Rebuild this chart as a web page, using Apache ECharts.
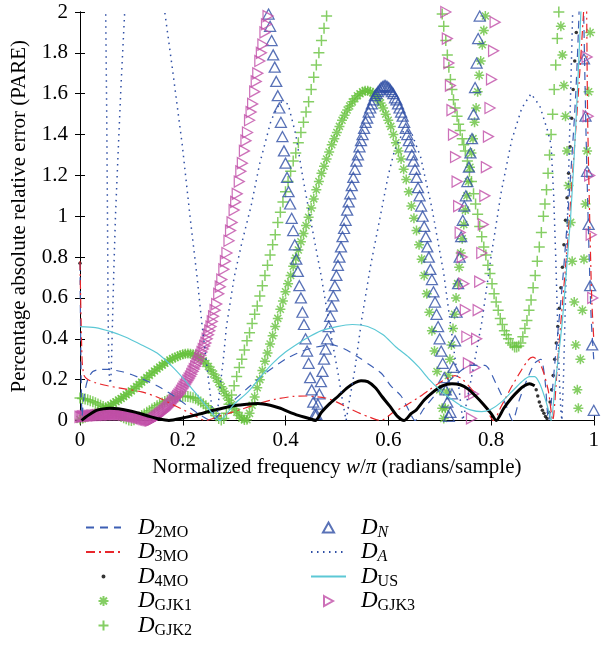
<!DOCTYPE html>
<html>
<head>
<meta charset="utf-8">
<script src="https://cdn.jsdelivr.net/npm/echarts/dist/echarts.min.js"></script>
<style>
  html, body { margin: 0; padding: 0; background: #fff; }
  #chart { width: 602px; height: 648px; }
</style>
</head>
<body>
<div id="chart"></div>
<script>
// axis ranges / ticks
const xTicks = [0, 0.2, 0.4, 0.6, 0.8, 1];
const yTicks = [0, 0.2, 0.4, 0.6, 0.8, 1, 1.2, 1.4, 1.6, 1.8, 2];

// legend names and how they are printed (base letter + subscript)
const seriesNames = ['D2MO', 'D3MO', 'D4MO', 'DGJK1', 'DGJK2', 'DN', 'DA', 'DUS', 'DGJK3'];
const subscripts = { D2MO: '2MO', D3MO: '3MO', D4MO: '4MO', DGJK1: 'GJK1', DGJK2: 'GJK2', DN: 'N', DA: 'A', DUS: 'US', DGJK3: 'GJK3' };

// D_2MO (dashed)
const d2mo = [[0,0.77],[0.004,0.02],[0.008,0.12],[0.015,0.2],[0.025,0.24],[0.04,0.25],[0.055,0.25],[0.08,0.24],[0.1,0.225],[0.12,0.205],[0.15,0.17],[0.183,0.12],[0.21,0.07],[0.235,0.025],[0.255,0],[0.275,0.04],[0.3,0.1],[0.327,0.16],[0.36,0.23],[0.4,0.3],[0.433,0.34],[0.46,0.36],[0.49,0.37],[0.515,0.35],[0.542,0.31],[0.565,0.27],[0.587,0.23],[0.605,0.17],[0.625,0.12],[0.64,0.05],[0.652,0],[0.67,0.06],[0.7,0.15],[0.73,0.22],[0.76,0.27],[0.788,0.27],[0.81,0.18],[0.83,0.07],[0.842,0],[0.855,0.1],[0.87,0.2],[0.885,0.28],[0.897,0.3],[0.905,0.2],[0.912,0],[0.925,0.3],[0.94,0.7],[0.955,1.2],[0.965,1.6],[0.972,2.05],[0.976,2.6],[0.98,2.05],[0.985,1.4],[0.99,0.9],[0.995,0.5],[1,0.3]];

// D_3MO (dash-dot)
const d3mo = [[0,0.78],[0.004,0.3],[0.008,0.22],[0.016,0.2],[0.03,0.185],[0.054,0.17],[0.087,0.155],[0.12,0.14],[0.15,0.115],[0.183,0.075],[0.215,0.035],[0.245,0],[0.27,0.02],[0.295,0.04],[0.32,0.06],[0.35,0.085],[0.381,0.105],[0.415,0.118],[0.44,0.12],[0.478,0.11],[0.5,0.09],[0.522,0.062],[0.545,0.035],[0.565,0.015],[0.585,0],[0.61,0.04],[0.635,0.075],[0.66,0.115],[0.68,0.15],[0.7,0.185],[0.718,0.21],[0.73,0.22],[0.745,0.2],[0.76,0.16],[0.775,0.11],[0.79,0.06],[0.805,0],[0.82,0.07],[0.84,0.165],[0.86,0.25],[0.872,0.295],[0.881,0.31],[0.893,0.29],[0.903,0.23],[0.912,0.14],[0.92,0],[0.93,0.3],[0.94,0.6],[0.95,0.9],[0.96,1.25],[0.97,1.6],[0.978,1.91],[0.981,2.05],[0.983,2.6],[0.986,2.05],[0.988,1.5],[0.992,1.0],[0.996,0.6],[1,0.4]];

// D_4MO: dense part (looks like a solid line) and the sparse dots
const d4moLine = [[0.003,0],[0.01,0.015],[0.02,0.032],[0.032,0.05],[0.045,0.057],[0.058,0.06],[0.075,0.057],[0.1,0.045],[0.12,0.032],[0.135,0.02],[0.15,0.01],[0.173,0],[0.2,0.012],[0.23,0.03],[0.26,0.05],[0.295,0.07],[0.32,0.078],[0.346,0.083],[0.37,0.075],[0.39,0.06],[0.404,0.045],[0.425,0.025],[0.446,0.01],[0.458,0],[0.47,0.04],[0.485,0.08],[0.503,0.12],[0.52,0.16],[0.535,0.185],[0.547,0.195],[0.56,0.19],[0.575,0.16],[0.587,0.12],[0.603,0.07],[0.618,0.02],[0.631,0],[0.645,0.035],[0.654,0.05],[0.67,0.1],[0.69,0.145],[0.705,0.17],[0.724,0.18],[0.74,0.175],[0.755,0.155],[0.77,0.12],[0.785,0.08],[0.8,0.035],[0.81,0],[0.825,0.06],[0.84,0.11],[0.855,0.15],[0.865,0.17],[0.875,0.18],[0.885,0.17]];
const d4moDots = [[0,0.77],[0.888,0.15],[0.891,0.12],[0.894,0.09],[0.897,0.07],[0.9,0.05],[0.903,0.035],[0.906,0.02],[0.909,0.01],[0.912,0.04],[0.915,0.09],[0.918,0.15],[0.921,0.22],[0.924,0.3],[0.927,0.38],[0.93,0.46],[0.933,0.55],[0.936,0.65],[0.939,0.75],[0.942,0.86],[0.945,0.98],[0.948,1.09],[0.951,1.21],[0.954,1.34],[0.957,1.48],[0.96,1.62],[0.963,1.76],[0.966,1.9],[0.969,2.04]];

// D_GJK1 (asterisks)
const dgjk1 = [[0,0.005],[0.005,0.01],[0.01,0.015],[0.015,0.02],[0.02,0.025],[0.025,0.03],[0.03,0.035],[0.035,0.04],[0.04,0.047],[0.045,0.054],[0.05,0.061],[0.055,0.068],[0.06,0.076],[0.065,0.084],[0.07,0.092],[0.075,0.1],[0.08,0.108],[0.085,0.117],[0.09,0.126],[0.095,0.135],[0.1,0.145],[0.105,0.155],[0.11,0.166],[0.115,0.177],[0.12,0.188],[0.125,0.199],[0.13,0.21],[0.135,0.221],[0.14,0.232],[0.145,0.242],[0.15,0.252],[0.155,0.262],[0.16,0.271],[0.165,0.28],[0.17,0.288],[0.175,0.296],[0.18,0.303],[0.185,0.309],[0.19,0.315],[0.195,0.32],[0.2,0.324],[0.205,0.327],[0.21,0.328],[0.215,0.327],[0.22,0.324],[0.225,0.319],[0.23,0.312],[0.235,0.303],[0.24,0.292],[0.245,0.279],[0.25,0.264],[0.255,0.247],[0.26,0.228],[0.265,0.208],[0.27,0.187],[0.275,0.165],[0.28,0.143],[0.285,0.121],[0.29,0.099],[0.295,0.078],[0.3,0.058],[0.305,0.04],[0.31,0.024],[0.315,0.011],[0.32,0.003],[0.325,0.004],[0.33,0.035],[0.335,0.075],[0.34,0.115],[0.345,0.16],[0.35,0.2],[0.355,0.245],[0.36,0.29],[0.365,0.33],[0.37,0.375],[0.375,0.415],[0.38,0.46],[0.385,0.5],[0.39,0.545],[0.395,0.585],[0.4,0.63],[0.405,0.67],[0.41,0.71],[0.415,0.755],[0.42,0.795],[0.425,0.835],[0.43,0.875],[0.435,0.915],[0.44,0.955],[0.445,0.995],[0.45,1.04],[0.455,1.085],[0.46,1.13],[0.465,1.17],[0.47,1.21],[0.475,1.245],[0.48,1.28],[0.485,1.315],[0.49,1.35],[0.495,1.38],[0.5,1.41],[0.505,1.44],[0.51,1.47],[0.515,1.495],[0.52,1.52],[0.525,1.54],[0.53,1.56],[0.535,1.575],[0.54,1.59],[0.545,1.6],[0.55,1.61],[0.555,1.615],[0.56,1.615],[0.565,1.61],[0.57,1.605],[0.575,1.59],[0.58,1.575],[0.585,1.555],[0.59,1.53],[0.595,1.5],[0.6,1.47],[0.605,1.44],[0.61,1.4],[0.615,1.36],[0.62,1.32],[0.625,1.28],[0.63,1.23],[0.635,1.18],[0.64,1.12],[0.645,1.05],[0.65,0.99],[0.655,0.93],[0.66,0.86],[0.665,0.79],[0.67,0.71],[0.675,0.62],[0.68,0.53],[0.685,0.44],[0.69,0.34],[0.695,0.24],[0.7,0.15],[0.705,0.06],[0.708,0.01],[0.711,0.06],[0.714,0.14],[0.717,0.22],[0.72,0.3],[0.723,0.37],[0.726,0.45],[0.729,0.52],[0.732,0.6],[0.735,0.67],[0.738,0.75],[0.741,0.82],[0.744,0.89],[0.747,0.96],[0.75,1.03],[0.753,1.1],[0.756,1.17],[0.759,1.24],[0.762,1.31],[0.765,1.38],[0.768,1.46],[0.771,1.53],[0.774,1.61],[0.777,1.69],[0.78,1.76],[0.783,1.84],[0.786,1.91],[0.789,1.98],[0.792,2.06],[0.933,2.06],[0.936,1.93],[0.939,1.79],[0.942,1.64],[0.945,1.49],[0.948,1.32],[0.951,1.15],[0.955,0.97],[0.958,0.78],[0.962,0.58],[0.965,0.37],[0.968,0.15],[0.97,0.06],[0.974,0.3],[0.978,0.54],[0.981,0.79],[0.984,1.06],[0.987,1.32],[0.99,1.61],[0.993,1.9],[0.996,2.1]];

// D_GJK2 (plus signs)
const dgjk2 = [[0,0.11],[0.005,0.108],[0.01,0.105],[0.015,0.101],[0.02,0.097],[0.025,0.092],[0.03,0.087],[0.035,0.081],[0.04,0.075],[0.045,0.069],[0.05,0.062],[0.055,0.055],[0.06,0.048],[0.065,0.041],[0.07,0.034],[0.075,0.027],[0.08,0.02],[0.085,0.014],[0.09,0.008],[0.095,0.003],[0.1,0],[0.105,0.004],[0.11,0.01],[0.115,0.017],[0.12,0.024],[0.125,0.032],[0.13,0.04],[0.135,0.048],[0.14,0.056],[0.145,0.064],[0.15,0.072],[0.155,0.079],[0.16,0.086],[0.165,0.093],[0.17,0.099],[0.175,0.104],[0.18,0.109],[0.185,0.113],[0.19,0.116],[0.195,0.118],[0.2,0.119],[0.205,0.119],[0.21,0.118],[0.215,0.115],[0.22,0.111],[0.225,0.106],[0.23,0.099],[0.235,0.091],[0.24,0.082],[0.245,0.072],[0.25,0.061],[0.255,0.049],[0.26,0.036],[0.265,0.023],[0.27,0.01],[0.275,0.002],[0.28,0.01],[0.285,0.035],[0.29,0.08],[0.295,0.125],[0.3,0.17],[0.305,0.215],[0.31,0.26],[0.315,0.3],[0.32,0.345],[0.325,0.39],[0.33,0.43],[0.335,0.475],[0.34,0.52],[0.345,0.56],[0.35,0.61],[0.355,0.66],[0.36,0.71],[0.365,0.76],[0.37,0.81],[0.375,0.86],[0.38,0.91],[0.385,0.97],[0.39,1.02],[0.395,1.07],[0.4,1.12],[0.405,1.17],[0.41,1.22],[0.415,1.27],[0.42,1.31],[0.425,1.36],[0.43,1.41],[0.435,1.46],[0.44,1.51],[0.445,1.56],[0.45,1.62],[0.455,1.68],[0.46,1.74],[0.465,1.8],[0.47,1.86],[0.475,1.92],[0.48,1.98],[0.485,2.04],[0.703,2.04],[0.705,1.99],[0.708,1.93],[0.712,1.86],[0.715,1.79],[0.718,1.73],[0.721,1.67],[0.724,1.62],[0.727,1.57],[0.73,1.53],[0.734,1.49],[0.737,1.45],[0.74,1.42],[0.744,1.38],[0.747,1.35],[0.75,1.32],[0.754,1.27],[0.758,1.22],[0.762,1.17],[0.766,1.11],[0.77,1.06],[0.774,1.01],[0.778,0.95],[0.782,0.9],[0.786,0.85],[0.79,0.81],[0.794,0.76],[0.798,0.72],[0.802,0.67],[0.806,0.62],[0.81,0.58],[0.814,0.54],[0.818,0.5],[0.822,0.47],[0.826,0.44],[0.83,0.42],[0.834,0.4],[0.838,0.38],[0.842,0.37],[0.846,0.36],[0.85,0.36],[0.854,0.365],[0.858,0.38],[0.862,0.41],[0.866,0.45],[0.87,0.49],[0.874,0.54],[0.878,0.59],[0.882,0.65],[0.886,0.71],[0.89,0.78],[0.894,0.85],[0.898,0.92],[0.902,1.0],[0.905,1.06],[0.908,1.13],[0.911,1.21],[0.914,1.3],[0.917,1.4],[0.92,1.5],[0.923,1.62],[0.926,1.74],[0.929,1.87],[0.932,2.0],[0.935,2.12]];

// D_N (open triangles)
const dn = [[0.364,2.06],[0.367,1.99],[0.37,1.93],[0.373,1.86],[0.376,1.79],[0.379,1.73],[0.382,1.66],[0.385,1.59],[0.388,1.53],[0.391,1.46],[0.394,1.39],[0.397,1.32],[0.4,1.26],[0.403,1.19],[0.406,1.12],[0.409,1.06],[0.412,0.99],[0.415,0.93],[0.418,0.86],[0.421,0.79],[0.424,0.73],[0.427,0.66],[0.43,0.6],[0.433,0.53],[0.436,0.47],[0.439,0.4],[0.442,0.34],[0.445,0.28],[0.448,0.21],[0.451,0.15],[0.454,0.09],[0.457,0.03],[0.46,0.03],[0.463,0.08],[0.466,0.13],[0.469,0.19],[0.472,0.24],[0.475,0.3],[0.478,0.35],[0.481,0.4],[0.484,0.46],[0.487,0.51],[0.49,0.56],[0.493,0.61],[0.496,0.66],[0.499,0.71],[0.502,0.76],[0.505,0.8],[0.508,0.85],[0.511,0.9],[0.514,0.94],[0.517,0.98],[0.52,1.03],[0.523,1.07],[0.526,1.11],[0.529,1.15],[0.532,1.19],[0.535,1.23],[0.538,1.27],[0.541,1.3],[0.544,1.34],[0.547,1.37],[0.55,1.4],[0.553,1.43],[0.556,1.46],[0.559,1.48],[0.562,1.51],[0.565,1.53],[0.568,1.55],[0.571,1.57],[0.574,1.59],[0.577,1.6],[0.58,1.61],[0.583,1.62],[0.586,1.63],[0.589,1.635],[0.592,1.64],[0.595,1.64],[0.598,1.635],[0.601,1.63],[0.604,1.62],[0.607,1.61],[0.61,1.6],[0.613,1.58],[0.616,1.57],[0.619,1.55],[0.622,1.53],[0.625,1.51],[0.628,1.49],[0.631,1.46],[0.634,1.43],[0.637,1.4],[0.64,1.37],[0.643,1.34],[0.646,1.3],[0.649,1.27],[0.652,1.23],[0.655,1.19],[0.658,1.14],[0.661,1.1],[0.664,1.05],[0.667,1.0],[0.67,0.95],[0.673,0.9],[0.676,0.85],[0.679,0.8],[0.682,0.74],[0.685,0.69],[0.688,0.63],[0.691,0.58],[0.694,0.52],[0.697,0.46],[0.7,0.4],[0.703,0.34],[0.706,0.28],[0.709,0.21],[0.712,0.15],[0.715,0.09],[0.718,0.02],[0.721,0.04],[0.724,0.13],[0.727,0.26],[0.73,0.39],[0.733,0.53],[0.736,0.67],[0.739,0.8],[0.742,0.9],[0.745,0.98],[0.748,1.05],[0.751,1.1],[0.754,1.17],[0.757,1.24],[0.76,1.31],[0.763,1.38],[0.766,1.5],[0.769,1.63],[0.772,1.75],[0.775,1.87],[0.778,1.98],[0.781,2.1],[0.978,2.06],[0.981,1.77],[0.984,1.49],[0.987,1.22],[0.99,0.96],[0.993,0.66],[0.997,0.37],[1,0.05]];

// D_A (dotted)
const da = [[0.047,2.4],[0.05,2.0],[0.052,1.5],[0.0535,1.0],[0.0545,0.6],[0.0555,0.35],[0.057,0.22],[0.0585,0.18],[0.06,0.2],[0.0615,0.3],[0.063,0.46],[0.066,0.75],[0.069,1.0],[0.074,1.3],[0.08,1.65],[0.087,2.0],[0.09,2.4],[0.16,2.4],[0.165,2.0],[0.18,1.72],[0.199,1.35],[0.215,0.98],[0.228,0.7],[0.237,0.48],[0.244,0.33],[0.25,0.2],[0.256,0.08],[0.262,0.01],[0.266,0],[0.272,0.15],[0.279,0.3],[0.285,0.46],[0.3,0.7],[0.315,0.87],[0.333,1.05],[0.35,1.26],[0.372,1.47],[0.39,1.56],[0.405,1.55],[0.42,1.4],[0.433,1.2],[0.449,0.98],[0.47,0.7],[0.49,0.4],[0.503,0.22],[0.512,0.08],[0.518,0],[0.526,0.12],[0.535,0.25],[0.548,0.49],[0.565,0.75],[0.583,0.98],[0.6,1.2],[0.612,1.32],[0.63,1.42],[0.645,1.41],[0.663,1.29],[0.685,1.04],[0.708,0.72],[0.725,0.4],[0.737,0.17],[0.745,0],[0.752,0.08],[0.765,0.25],[0.782,0.48],[0.8,0.8],[0.82,1.12],[0.84,1.37],[0.86,1.53],[0.878,1.6],[0.895,1.54],[0.91,1.42],[0.917,1.35],[0.922,1.1],[0.926,0.8],[0.93,0.45],[0.933,0.2],[0.936,0.05],[0.938,0],[0.941,0.2],[0.945,0.6],[0.95,1.1],[0.955,1.6],[0.96,2.1]];

// D_US (solid)
const dus = [[0,0.46],[0.03,0.455],[0.06,0.435],[0.087,0.41],[0.12,0.37],[0.15,0.33],[0.183,0.255],[0.215,0.165],[0.246,0.07],[0.272,0],[0.3,0.08],[0.327,0.14],[0.35,0.21],[0.375,0.28],[0.4,0.335],[0.423,0.375],[0.446,0.41],[0.47,0.44],[0.5,0.46],[0.53,0.47],[0.56,0.46],[0.59,0.42],[0.615,0.36],[0.64,0.31],[0.66,0.26],[0.68,0.2],[0.7,0.15],[0.72,0.11],[0.74,0.075],[0.76,0.052],[0.782,0.043],[0.8,0.055],[0.82,0.09],[0.84,0.14],[0.86,0.19],[0.875,0.215],[0.885,0.215],[0.895,0.18],[0.905,0.11],[0.912,0.05],[0.917,0],[0.925,0.18],[0.932,0.33],[0.939,0.49],[0.947,0.74],[0.955,1.0],[0.962,1.3],[0.968,1.6],[0.975,2.0],[0.977,2.1]];

// D_GJK3 (right-pointing triangles)
const dgjk3 = [[0,0.018],[0.0025,0.019],[0.005,0.02],[0.0075,0.0205],[0.01,0.021],[0.0125,0.0215],[0.015,0.022],[0.0175,0.0225],[0.02,0.023],[0.0225,0.0235],[0.025,0.024],[0.0275,0.0245],[0.03,0.025],[0.0325,0.0255],[0.035,0.026],[0.0375,0.0265],[0.04,0.027],[0.0425,0.0275],[0.045,0.028],[0.0475,0.028],[0.05,0.028],[0.0525,0.0285],[0.055,0.029],[0.0575,0.029],[0.06,0.029],[0.0625,0.0295],[0.065,0.03],[0.0675,0.03],[0.07,0.03],[0.0725,0.03],[0.075,0.03],[0.0775,0.03],[0.08,0.03],[0.0825,0.0295],[0.085,0.029],[0.0875,0.0285],[0.09,0.028],[0.0925,0.027],[0.095,0.026],[0.0975,0.025],[0.1,0.024],[0.1025,0.0225],[0.105,0.021],[0.1075,0.0195],[0.11,0.018],[0.1125,0.0165],[0.115,0.015],[0.1175,0.013],[0.12,0.011],[0.1225,0.009],[0.125,0.007],[0.1275,0.0055],[0.13,0.004],[0.1325,0.0025],[0.135,0.001],[0.1375,0.0005],[0.14,0.003],[0.1425,0.006],[0.145,0.01],[0.1475,0.015],[0.15,0.02],[0.1525,0.025],[0.155,0.03],[0.1575,0.035],[0.16,0.04],[0.1625,0.045],[0.165,0.05],[0.1675,0.056],[0.17,0.062],[0.1725,0.068],[0.175,0.075],[0.1775,0.082],[0.18,0.09],[0.1825,0.097],[0.185,0.105],[0.1875,0.112],[0.19,0.12],[0.1925,0.127],[0.195,0.135],[0.1975,0.145],[0.2,0.155],[0.2025,0.165],[0.205,0.175],[0.2075,0.185],[0.21,0.195],[0.2125,0.205],[0.215,0.215],[0.2175,0.227],[0.22,0.24],[0.2225,0.252],[0.225,0.265],[0.2275,0.277],[0.23,0.29],[0.2325,0.305],[0.235,0.32],[0.2375,0.335],[0.24,0.35],[0.2425,0.365],[0.245,0.38],[0.2475,0.4],[0.25,0.42],[0.2525,0.44],[0.255,0.46],[0.2575,0.485],[0.26,0.51],[0.263,0.54],[0.266,0.57],[0.27,0.62],[0.273,0.655],[0.276,0.69],[0.28,0.74],[0.283,0.78],[0.286,0.82],[0.29,0.88],[0.293,0.93],[0.296,0.97],[0.3,1.03],[0.303,1.07],[0.306,1.11],[0.31,1.17],[0.313,1.22],[0.316,1.26],[0.32,1.32],[0.323,1.37],[0.326,1.41],[0.33,1.47],[0.333,1.51],[0.336,1.55],[0.34,1.61],[0.343,1.66],[0.346,1.7],[0.35,1.76],[0.353,1.8],[0.356,1.84],[0.36,1.9],[0.363,1.94],[0.366,1.98],[0.37,2.04],[0.712,2.0],[0.715,1.87],[0.718,1.75],[0.721,1.64],[0.724,1.52],[0.727,1.4],[0.731,1.29],[0.734,1.17],[0.737,1.05],[0.74,0.92],[0.744,0.8],[0.747,0.67],[0.75,0.54],[0.753,0.41],[0.756,0.28],[0.759,0.14],[0.762,0.01],[0.766,0.13],[0.769,0.26],[0.772,0.4],[0.775,0.54],[0.778,0.68],[0.782,0.82],[0.785,0.96],[0.788,1.1],[0.791,1.24],[0.795,1.39],[0.798,1.53],[0.801,1.67],[0.805,1.81],[0.808,1.95],[0.811,2.09],[0.987,1.78],[0.989,1.49],[0.992,1.2],[0.995,0.91],[0.998,0.6]];

const BLUE = '#2f4fa5';
const DASHBLUE = '#3d5fb4';
const RED = '#e8272c';
const GREEN = '#66c23d';
const CYAN = '#5cc8d5';
const PINK = '#c04ea8';
const SERIF = "'Liberation Serif', 'DejaVu Serif', serif";

const SYM_TRI = 'path://M5,0 L10,9 L0,9 Z';
const SYM_RTRI = 'path://M0,0 L9,5 L0,10 Z';
const SYM_AST = 'path://M5,0 L5,10 M0,5 L10,5 M1.5,1.5 L8.5,8.5 M8.5,1.5 L1.5,8.5';
const SYM_PLUS = 'path://M5,0 L5,10 M0,5 L10,5';
const SYM_DOT = 'path://M0,0 L0.01,0 M10,10 L10.01,10 M5,3 A2,2 0 1 1 5,7 A2,2 0 1 1 5,3 Z';

function lineSeries(name, data, color, type, width) {
  return {
    name: name, type: 'line', data: data, symbol: 'none', smooth: 0.25,
    lineStyle: { color: color, type: type, width: width },
    itemStyle: { color: color }
  };
}
function markSeries(name, data, symbol, size, color, bw) {
  return {
    name: name, type: 'scatter', data: data, symbol: symbol, symbolSize: size,
    itemStyle: { color: 'rgba(0,0,0,0)', borderColor: color, borderWidth: bw || 1.2 }
  };
}

const chart = echarts.init(document.getElementById('chart'));

const daSeries = lineSeries('DA', da, BLUE, [1.5, 4.5], 1.5);
daSeries.smooth = false;

const lineNames = ['D2MO', 'D3MO', 'DA', 'DUS'];
function legendItem(n) {
  if (n === 'D4MO') return { name: n, icon: SYM_DOT };
  if (lineNames.indexOf(n) >= 0) return { name: n, itemStyle: { opacity: 0 } };
  return n;
}

const option = {
  animation: false,
  backgroundColor: '#fff',
  grid: { left: 80, right: 2, top: 12, height: 408.5 },
  xAxis: [{
    type: 'value', min: xTicks[0], max: xTicks[xTicks.length - 1], interval: 0.2,
    name: '{n|Normalized frequency }{i|w}{n|/}{i|π}{n| (radians/sample)}',
    nameLocation: 'middle', nameGap: 36,
    nameTextStyle: { rich: {
      n: { fontFamily: SERIF, fontSize: 21, color: '#000' },
      i: { fontFamily: SERIF, fontSize: 21, fontStyle: 'italic', color: '#000' }
    } },
    axisLine: { lineStyle: { color: '#000', width: 1 } },
    axisTick: { inside: true, length: 5, lineStyle: { color: '#000' } },
    axisLabel: { fontFamily: SERIF, fontSize: 21, color: '#000', margin: 9 },
    splitLine: { show: false }
  }, {
    type: 'value', position: 'top', min: 0, max: 1, interval: 0.2,
    axisLine: { lineStyle: { color: '#000', width: 1 } },
    axisTick: { inside: true, length: 5, lineStyle: { color: '#000' } },
    axisLabel: { show: false }, splitLine: { show: false }
  }],
  yAxis: [{
    type: 'value', min: yTicks[0], max: yTicks[yTicks.length - 1], interval: 0.2,
    name: 'Percentage absolute relative error (PARE)',
    nameLocation: 'middle', nameGap: 50,
    nameTextStyle: { fontFamily: SERIF, fontSize: 21, color: '#000' },
    axisLine: { lineStyle: { color: '#000', width: 1 } },
    axisTick: { inside: true, length: 5, lineStyle: { color: '#000' } },
    axisLabel: { fontFamily: SERIF, fontSize: 21, color: '#000', margin: 12 },
    splitLine: { show: false }
  }, {
    type: 'value', position: 'right', min: 0, max: 2, interval: 0.2,
    axisLine: { lineStyle: { color: '#000', width: 1 } },
    axisTick: { inside: true, length: 5, lineStyle: { color: '#000' } },
    axisLabel: { show: false }, splitLine: { show: false }
  }],
  legend: [
    { data: seriesNames.slice(0, 5).map(legendItem), left: 80, top: 511 },
    { data: seriesNames.slice(5).map(legendItem), left: 305, top: 511 }
  ].map(l => Object.assign(l, {
    orient: 'vertical', itemWidth: 35, itemHeight: 10, itemGap: 0, selectedMode: false,
    formatter: name => {
      const sub = subscripts[name];
      const italicSub = (name === 'DN' || name === 'DA');
      return '{d|D}{' + (italicSub ? 'si' : 's') + '|' + sub + '}';
    },
    textStyle: { rich: {
      d: { fontFamily: SERIF, fontSize: 23, fontStyle: 'italic', color: '#000', lineHeight: 26, padding: [0, 0, 0, l.left === 80 ? 12 : 10] },
      s: { fontFamily: SERIF, fontSize: 16, color: '#000', lineHeight: 16, verticalAlign: 'bottom' },
      si: { fontFamily: SERIF, fontSize: 16, fontStyle: 'italic', color: '#000', lineHeight: 16, verticalAlign: 'bottom' }
    } }
  })),
  series: [
    lineSeries('D2MO', d2mo, DASHBLUE, [8, 6], 1.2),
    lineSeries('D3MO', d3mo, RED, [9, 4, 2, 4], 1.2),
    Object.assign(markSeries('D4MO', d4moDots, 'circle', 3.5, '#000'), { itemStyle: { color: '#000' } }),
    lineSeries('D4MO', d4moLine, '#000', 'solid', 3),
    markSeries('DGJK1', dgjk1, SYM_AST, 10, GREEN, 1.5),
    markSeries('DGJK2', dgjk2, SYM_PLUS, 11, GREEN, 1.5),
    markSeries('DN', dn, SYM_TRI, [11, 10], BLUE, 1.3),
    daSeries,
    lineSeries('DUS', dus, CYAN, 'solid', 1.2),
    markSeries('DGJK3', dgjk3, SYM_RTRI, [10, 11], PINK, 1.3)
  ]
};

chart.setOption(option);
</script>
</body>
</html>
